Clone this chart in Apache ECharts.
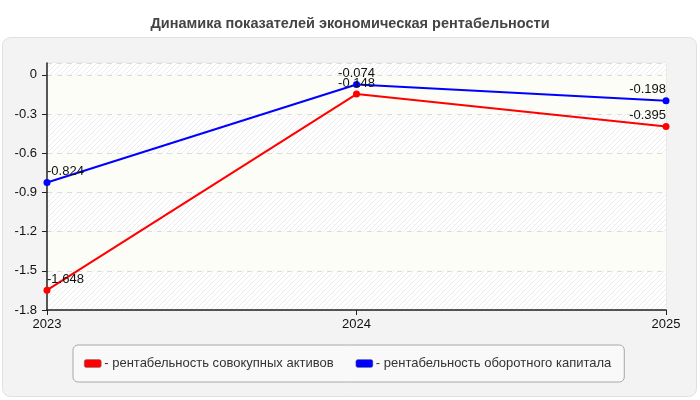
<!DOCTYPE html>
<html>
<head>
    <meta charset="utf-8">
    <title>Динамика показателей</title>
    <script src="https://cdn.jsdelivr.net/npm/echarts@6/dist/echarts.min.js"></script>
    <style type="text/css">
        * { margin: 0px; padding: 0px; }
        #main { width: 700px; height: 400px; }
    </style>
</head>
<body>
<div id="main"></div>
<script type="text/javascript">
    // данные
    var years = ['2023', '2024', '2025'];
    var seriesNames = ['рентабельность совокупных активов', 'рентабельность оборотного капитала'];
    var assetsValues = [-1.648, -0.148, -0.395];
    var capitalValues = [-0.824, -0.074, -0.198];
    var labelAligns = ['left', 'center', 'right'];

    // штриховка фона
    var hatch = document.createElement('canvas');
    hatch.width = 5;
    hatch.height = 5;
    var hc = hatch.getContext('2d');
    hc.fillStyle = '#ffffff';
    hc.fillRect(0, 0, 5, 5);
    hc.strokeStyle = '#ececec';
    hc.lineWidth = 1;
    hc.beginPath();
    hc.moveTo(-1, 6); hc.lineTo(6, -1);
    hc.moveTo(-1, 1); hc.lineTo(1, -1);
    hc.moveTo(4, 6); hc.lineTo(6, 4);
    hc.stroke();

    function withLabels(values) {
        var out = [];
        for (var i = 0; i < values.length; i++) {
            out.push({value: values[i], label: {align: labelAligns[i]}});
        }
        return out;
    }

    var font = "'Liberation Sans', Arial, sans-serif";
    var chart = echarts.init(document.getElementById('main'));

    var option = {
        backgroundColor: '#ffffff',
        animation: false,
        textStyle: {fontFamily: font},
        graphic: [{
            type: 'rect',
            z: -10,
            shape: {x: 2.5, y: 37.5, width: 694, height: 359, r: 8},
            style: {fill: '#f3f3f3', stroke: '#e0e0e0', lineWidth: 1}
        }],
        title: {
            text: 'Динамика показателей экономическая рентабельности',
            left: 'center',
            top: 11,
            textStyle: {fontFamily: font, fontSize: 14.5, fontWeight: 'bold', color: '#444'}
        },
        legend: {
            data: seriesNames,
            left: 73,
            top: 345,
            padding: [12, 13, 12, 11],
            backgroundColor: '#f9f9f9',
            borderColor: '#a8a8a8',
            borderWidth: 1,
            borderRadius: 5,
            itemWidth: 17,
            itemHeight: 8,
            itemGap: 22,
            icon: 'roundRect',
            formatter: '- {name}',
            textStyle: {fontFamily: font, fontSize: 13, color: '#333', padding: [0, 0, 0, -2]},
            itemStyle: {borderColor: '#777', borderWidth: 0.5}
        },
        grid: {left: 47, right: 34, top: 63, bottom: 90, show: true, borderColor: '#e2e2e2', borderWidth: 1},
        xAxis: {
            type: 'category',
            data: years,
            boundaryGap: false,
            axisLine: {onZero: false, lineStyle: {color: '#222', width: 1.5}},
            axisTick: {show: true, length: 5, lineStyle: {color: '#222'}},
            axisLabel: {color: '#111', fontSize: 13, margin: 8, fontFamily: font},
            splitLine: {show: false}
        },
        yAxis: {
            type: 'value',
            min: -1.8,
            max: 0.09,
            interval: 0.3,
            axisLine: {show: true, lineStyle: {color: '#222', width: 1.5}},
            axisTick: {show: true, length: 5, lineStyle: {color: '#222'}},
            axisLabel: {color: '#111', fontSize: 13, margin: 10, showMaxLabel: false, fontFamily: font},
            splitLine: {show: true, lineStyle: {color: '#dcdcdc', type: [5, 5]}},
            splitArea: {show: true, areaStyle: {color: [{image: hatch, repeat: 'repeat'}, '#fcfdf6']}}
        },
        series: [{
            name: seriesNames[0],
            type: 'line',
            data: withLabels(assetsValues),
            color: '#ff0000',
            symbol: 'circle',
            symbolSize: 7,
            lineStyle: {width: 2, color: '#ff0000'},
            label: {show: true, position: 'top', distance: 1, color: '#111', fontSize: 13, fontFamily: font}
        }, {
            name: seriesNames[1],
            type: 'line',
            data: withLabels(capitalValues),
            color: '#0000ff',
            symbol: 'circle',
            symbolSize: 7,
            lineStyle: {width: 2, color: '#0000ff'},
            label: {show: true, position: 'top', distance: 1, color: '#111', fontSize: 13, fontFamily: font}
        }]
    };

    chart.setOption(option);
</script>
</body>
</html>
